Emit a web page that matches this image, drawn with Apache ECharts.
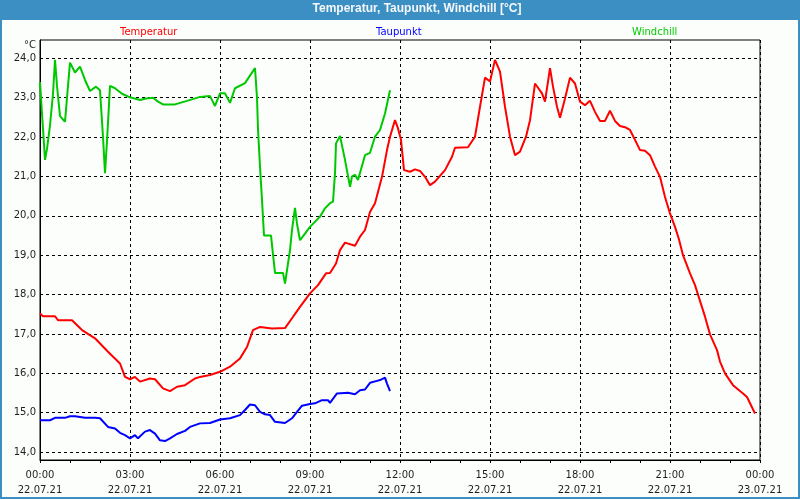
<!DOCTYPE html>
<html>
<head>
<meta charset="utf-8">
<script src="https://cdn.jsdelivr.net/npm/echarts@6/dist/echarts.min.js"></script>
<style>html,body{margin:0;padding:0;background:#fcfefc;}#c{width:800px;height:500px;}</style>
</head>
<body>
<div id="c"></div>
<script>
// time in minutes since 22.07.21 00:00
const tempTime = [0,6,30,36,64,84,110,136,160,170,180,190,200,220,230,246,260,274,290,310,320,340,360,380,400,414,426,440,464,490,504,520,540,556,572,580,592,600,610,630,640,650,660,670,684,694,700,710,716,722,728,740,750,760,770,780,790,810,824,830,856,870,880,890,900,910,920,930,940,950,960,972,980,990,1004,1010,1020,1026,1034,1040,1050,1060,1070,1080,1090,1100,1110,1120,1130,1140,1150,1160,1170,1180,1190,1200,1210,1220,1230,1240,1250,1260,1270,1278,1286,1300,1310,1316,1330,1340,1354,1360,1370,1386,1406,1414,1430];
const tempValues = [17.52,17.45,17.45,17.35,17.35,17.10,16.89,16.55,16.25,15.91,15.85,15.91,15.79,15.87,15.85,15.62,15.55,15.66,15.70,15.87,15.91,15.96,16.04,16.17,16.38,16.67,17.10,17.18,17.14,17.15,17.40,17.69,18.03,18.24,18.54,18.55,18.79,19.13,19.32,19.24,19.47,19.64,20.10,20.32,20.99,21.67,22.01,22.43,22.22,21.93,21.16,21.12,21.18,21.14,20.99,20.78,20.87,21.16,21.50,21.73,21.74,22.01,22.77,23.51,23.41,23.96,23.66,22.77,22.01,21.54,21.63,22.01,22.43,23.36,23.11,22.90,23.75,23.28,22.77,22.49,22.98,23.51,23.36,22.90,22.81,22.92,22.64,22.41,22.41,22.67,22.41,22.28,22.25,22.18,21.93,21.67,21.65,21.54,21.25,20.99,20.48,20.06,19.72,19.40,19.00,18.54,18.24,18.00,17.44,16.99,16.59,16.30,16.00,15.70,15.49,15.40,14.98];

const dewTime = [0,20,30,50,60,70,90,110,120,136,150,160,170,180,190,196,210,220,230,240,250,260,274,290,300,320,340,360,380,400,410,420,430,440,450,460,470,490,504,514,524,540,550,564,576,580,594,616,630,640,650,660,674,680,690,694,700];
const dewValues = [14.81,14.81,14.87,14.87,14.91,14.91,14.87,14.87,14.86,14.64,14.60,14.49,14.43,14.35,14.43,14.35,14.52,14.56,14.47,14.30,14.28,14.35,14.46,14.54,14.64,14.73,14.74,14.83,14.86,14.94,15.07,15.21,15.19,15.02,14.96,14.94,14.77,14.74,14.86,15.02,15.18,15.22,15.24,15.32,15.32,15.25,15.49,15.51,15.47,15.57,15.59,15.76,15.81,15.83,15.89,15.74,15.55];

const chillTime = [0,4,10,14,20,26,30,34,40,50,54,60,70,80,90,100,112,120,126,130,134,140,150,164,180,200,212,226,236,246,270,294,320,340,350,360,370,380,390,410,430,434,436,440,444,448,462,470,486,490,500,504,510,514,520,530,540,560,570,580,586,590,592,600,610,620,624,630,636,640,650,660,670,680,690,700];
const chillValues = [23.40,22.60,21.42,21.70,22.30,23.10,23.96,23.30,22.53,22.39,23.00,23.89,23.64,23.79,23.45,23.17,23.28,23.19,22.00,21.08,21.90,23.30,23.24,23.10,23.01,22.94,22.98,23.00,22.90,22.83,22.83,22.92,23.02,23.04,22.79,23.11,23.11,22.87,23.24,23.37,23.75,23.00,22.20,21.25,20.40,19.50,19.50,18.55,18.55,18.28,19.13,19.64,20.20,19.80,19.38,19.55,19.72,19.98,20.19,20.32,20.36,21.08,21.84,22.03,21.42,20.74,21.00,21.04,20.91,20.91,21.54,21.60,22.01,22.18,22.60,23.19];

const yTicks = [14,15,16,17,18,19,20,21,22,23,24];
const seriesNames = ['Temperatur','Taupunkt','Windchill'];

const FONT = 'DejaVu Sans';
const pairs = (t, v) => t.map((m, i) => [m, v[i]]);
const pad = n => (n < 10 ? '0' : '') + n;

const chart = echarts.init(document.getElementById('c'), null, {renderer: 'canvas'});
chart.setOption({
  animation: false,
  backgroundColor: '#fcfefc',
  graphic: [
    {type: 'rect', left: 0, top: 0, shape: {width: 800, height: 20}, style: {fill: '#3b8fc3'}, z: 0},
    {type: 'rect', shape: {x: 1, y: 1, width: 798, height: 497}, style: {fill: null, stroke: '#3b8fc3', lineWidth: 2}, z: 0}
  ],
  title: {
    text: 'Temperatur, Taupunkt, Windchill [°C]',
    left: 417, top: 3, textAlign: 'center', padding: 0,
    textStyle: {color: '#f4f8fb', fontSize: 12, fontWeight: 'bold', fontFamily: 'Liberation Sans'}
  },
  legend: [
    {data: [seriesNames[0]], left: 115, top: 25, padding: 0, icon: 'none', itemWidth: 0, itemGap: 0, selectedMode: false,
     textStyle: {color: '#ff0000', fontSize: 10, fontFamily: FONT}},
    {data: [seriesNames[1]], left: 371, top: 25, padding: 0, icon: 'none', itemWidth: 0, itemGap: 0, selectedMode: false,
     textStyle: {color: '#0000ff', fontSize: 10, fontFamily: FONT}},
    {data: [seriesNames[2]], left: 627, top: 25, padding: 0, icon: 'none', itemWidth: 0, itemGap: 0, selectedMode: false,
     textStyle: {color: '#00cc00', fontSize: 10, fontFamily: FONT}}
  ],
  grid: {left: 40, right: 40, top: 40, bottom: 40, show: true, borderColor: '#000', borderWidth: 1, backgroundColor: 'transparent'},
  xAxis: {
    type: 'value', min: 0, max: 1440, interval: 180,
    axisLine: {lineStyle: {color: '#000', width: 1}},
    axisTick: {show: true, length: 3, lineStyle: {color: '#000'}},
    minorTick: {show: true, splitNumber: 3, length: 3, lineStyle: {color: '#000'}},
    splitLine: {show: true, lineStyle: {color: '#000', type: [3, 3], width: 1}},
    axisLabel: {
      margin: 8, fontSize: 10, lineHeight: 15, color: '#1e1e1e', fontFamily: FONT,
      formatter: v => {
        const day = 22 + Math.floor(v / 1440);
        const m = v % 1440;
        return pad(Math.floor(m / 60)) + ':' + pad(m % 60) + '\n' + day + '.07.21';
      }
    }
  },
  yAxis: {
    type: 'value', min: 13.8, max: 24.465,
    name: '°C', nameLocation: 'end', nameGap: -5,
    nameTextStyle: {align: 'right', verticalAlign: 'middle', padding: [0, 4, 0, 0], fontSize: 10, color: '#1e1e1e', fontFamily: FONT},
    axisLine: {show: true, lineStyle: {color: '#000', width: 1}},
    axisTick: {show: false, customValues: yTicks},
    splitLine: {show: true, lineStyle: {color: '#000', type: [3, 3], width: 1}},
    axisLabel: {
      customValues: yTicks, margin: 4, fontSize: 10, color: '#1e1e1e', fontFamily: FONT,
      formatter: v => v.toFixed(1).replace('.', ',')
    }
  },
  series: [
    {name: seriesNames[0], type: 'line', data: pairs(tempTime, tempValues), showSymbol: false, lineStyle: {color: '#ff0000', width: 2}, itemStyle: {color: '#ff0000'}},
    {name: seriesNames[1], type: 'line', data: pairs(dewTime, dewValues), showSymbol: false, lineStyle: {color: '#0000ff', width: 2}, itemStyle: {color: '#0000ff'}},
    {name: seriesNames[2], type: 'line', data: pairs(chillTime, chillValues), showSymbol: false, lineStyle: {color: '#00c800', width: 2}, itemStyle: {color: '#00c800'}}
  ]
});
</script>
</body>
</html>
